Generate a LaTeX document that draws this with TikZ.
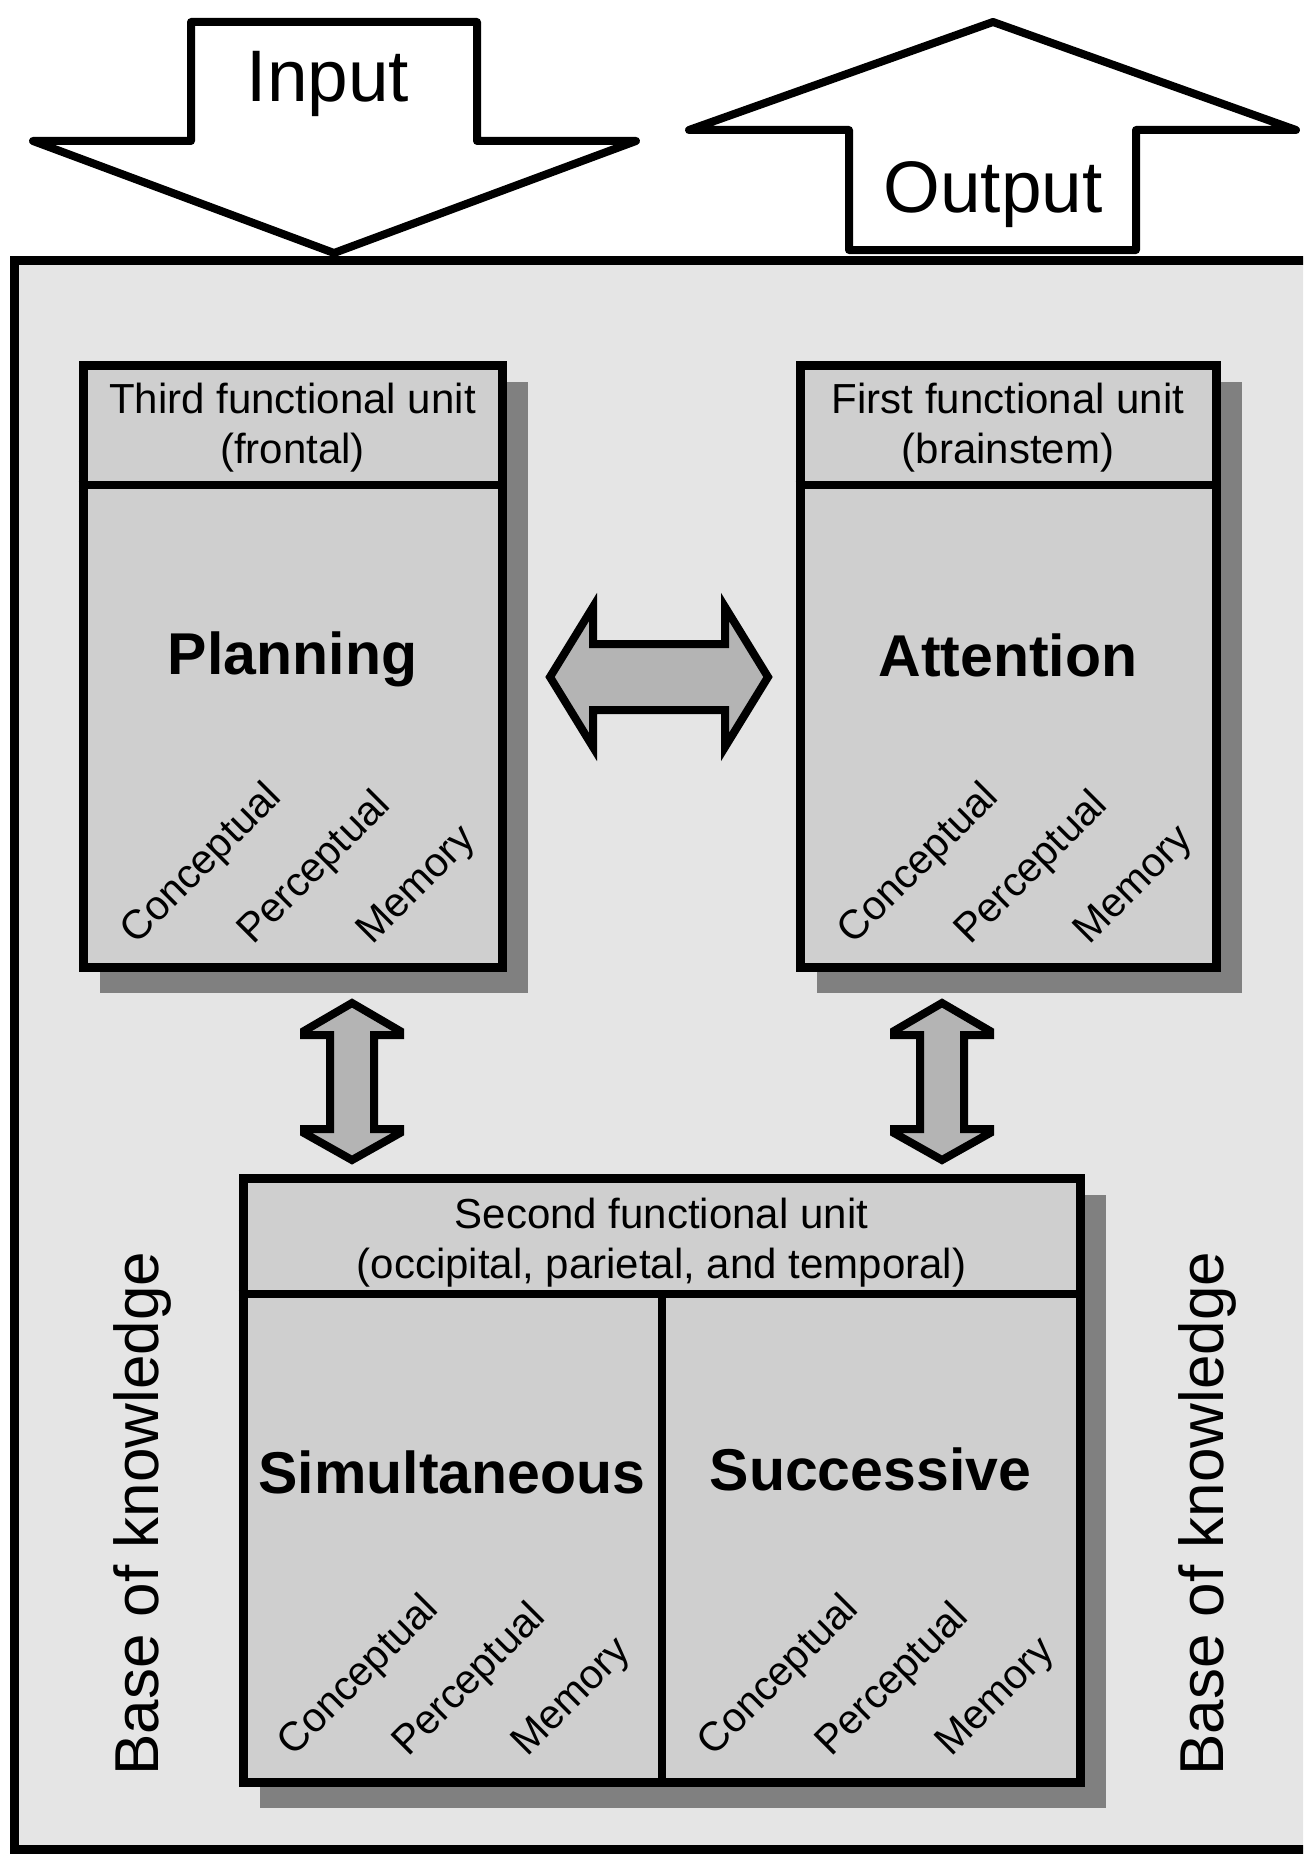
\documentclass[tikz,border=0pt]{standalone}
\usepackage{fontspec}
\setmainfont{Liberation Sans}
\usetikzlibrary{calc}

\definecolor{kbgray}{gray}{0.898}
\definecolor{unitgray}{gray}{0.812}
\definecolor{shadegray}{gray}{0.5}
\definecolor{arrowgray}{gray}{0.706}

\tikzset{
  kbbox/.style={rectangle, draw=black, line width=9pt, fill=kbgray, inner sep=0pt},
  unitbox/.style={rectangle, draw=black, line width=9pt, fill=unitgray, inner sep=0pt,
    preaction={fill=shadegray, draw=shadegray, line width=9pt,
      transform canvas={shift={(21pt,-21pt)}}}},
  divline/.style={draw=black, line width=8pt},
  blockarrow/.style={draw=black, line width=8pt, fill=arrowgray, line join=miter},
  ioarrow/.style={draw=black, line width=8pt, fill=white, line join=round},
  headtext/.style={font=\fontsize{42pt}{50pt}\selectfont, align=center, inner sep=0pt},
  titletext/.style={font=\fontsize{59pt}{64pt}\selectfont\bfseries, inner sep=0pt, anchor=base},
  facet/.style={font=\fontsize{41pt}{48pt}\selectfont, inner sep=0pt, anchor=base west, rotate=45},
  sidetext/.style={font=\fontsize{62pt}{70pt}\selectfont, inner sep=0pt, anchor=base west, rotate=90},
  iotext/.style={font=\fontsize{73pt}{80pt}\selectfont, inner sep=0pt, anchor=base},
}

% vertical two-headed block arrow, starting at its upper tip
\newcommand\vblockarrow[1]{%
  \draw[blockarrow] (#1) -- ++(48,28) -- ++(0,4) -- ++(-26,0) -- ++(0,94)
    -- ++(26,0) -- ++(0,4) -- ++(-48,27) -- ++(-48,-27) -- ++(0,-4)
    -- ++(26,0) -- ++(0,-94) -- ++(-26,0) -- ++(0,-4) -- cycle;}

\begin{document}
\begin{tikzpicture}[x=1pt, y=-1pt]
\useasboundingbox (0,0) rectangle (1303,1854);
\clip (0,0) rectangle (1303,1854);

% knowledge base frame
\node[kbbox, minimum width=1316pt, minimum height=1589pt] (kb) at (672,1054.5) {};

% input and output arrows
\draw[ioarrow] (191,22) -- (477,22) -- (477,141) -- (636,141) -- (334,253)
  -- (33,141) -- (191,141) -- cycle;
\node[iotext] (in) at (328,102) {Input};
\draw[ioarrow] (849,250) -- (849,130) -- (689,130) -- (993,22) -- (1296,130)
  -- (1136,130) -- (1136,250) -- cycle;
\node[iotext] (out) at (993,212) {Output};

% functional units
\node[unitbox, minimum width=419pt, minimum height=602pt] (plan) at (292.5,666) {};
\node[unitbox, minimum width=416pt, minimum height=602pt] (att) at (1008,666) {};
\node[unitbox, minimum width=837pt, minimum height=604pt] (sec) at (661.5,1480) {};

\draw[divline] ([yshift=-124pt]plan.north west) -- ([yshift=-124pt]plan.north east);
\draw[divline] ([yshift=-124pt]att.north west) -- ([yshift=-124pt]att.north east);
\draw[divline] ([yshift=-120pt]sec.north west) -- ([yshift=-120pt]sec.north east);
\draw[divline] ([yshift=-120pt]sec.north) -- (sec.south);

% unit headings
\node[headtext] (planhd) at ($(plan.north)+(0,67)$) {Third functional unit\\(frontal)};
\node[headtext] (atthd) at ($(att.north)+(0,67)$) {First functional unit\\(brainstem)};
\node[headtext] (sechd) at ($(sec.north)+(0,69)$) {Second functional unit\\(occipital, parietal, and temporal)};

% processes
\node[titletext] (plant) at (292.5,674) {Planning};
\node[titletext] (attt) at (1008,676) {Attention};
\node[titletext] (simt) at (452,1493) {Simultaneous};
\node[titletext] (suct) at (870.5,1490) {Successive};

% facets
\node[facet] (pc) at (136,946) {Conceptual};
\node[facet] (pp) at (253,946) {Perceptual};
\node[facet] (pm) at (372,946) {Memory};
\node[facet] (ac) at (853,946) {Conceptual};
\node[facet] (ap) at (970,946) {Perceptual};
\node[facet] (am) at (1089,946) {Memory};
\node[facet] (sc) at (293,1758) {Conceptual};
\node[facet] (sp) at (408,1758) {Perceptual};
\node[facet] (sm) at (527,1758) {Memory};
\node[facet] (uc) at (713,1758) {Conceptual};
\node[facet] (up) at (831,1758) {Perceptual};
\node[facet] (um) at (951,1758) {Memory};

% side labels
\node[sidetext] (kbl) at (158,1776) {Base of knowledge};
\node[sidetext] (kbr) at (1223,1776) {Base of knowledge};

% links between units
\coordinate (hl) at (550,677);
\coordinate (hr) at (768,677);
\draw[blockarrow] (hl) -- ++(43,-70) -- ++(0,37) -- ($(hr)+(-43,-33)$) -- ++(0,-37)
  -- (hr) -- ++(-43,70) -- ++(0,-37) -- ($(hl)+(43,33)$) -- ++(0,37) -- cycle;
\coordinate (vl) at (352,1003);
\coordinate (vr) at (942,1003);
\vblockarrow{vl}
\vblockarrow{vr}
\end{tikzpicture}
\end{document}
